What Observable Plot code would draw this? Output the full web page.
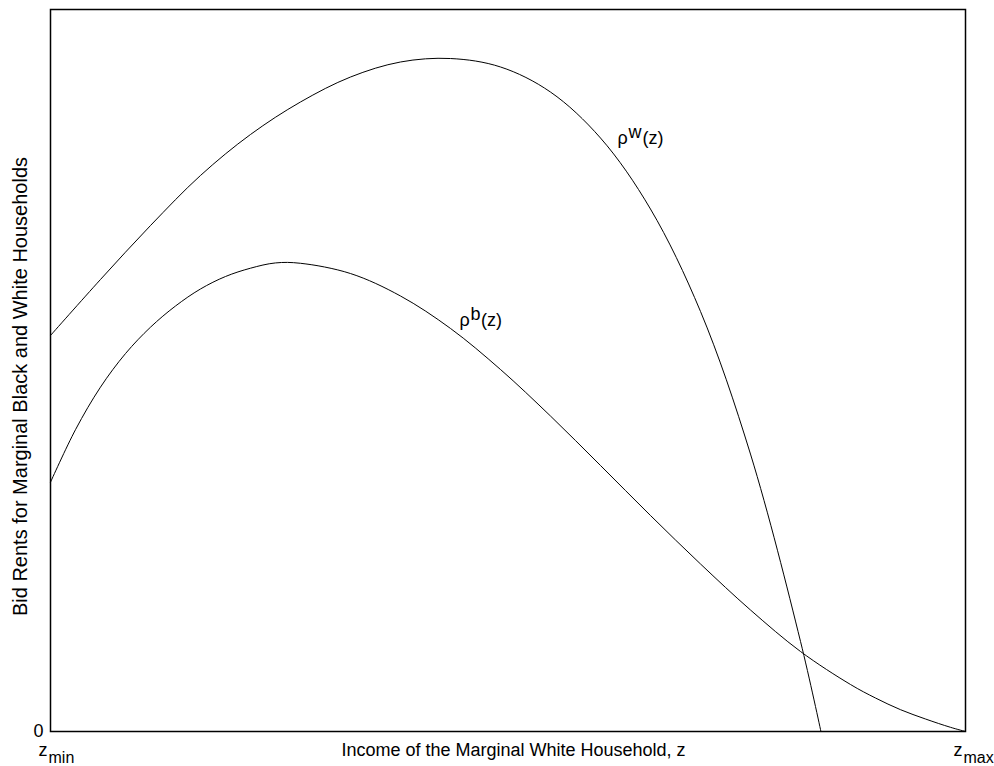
<!DOCTYPE html>
<html>
<head>
<meta charset="utf-8">
<script src="https://cdn.jsdelivr.net/npm/d3@7"></script>
<script src="https://cdn.jsdelivr.net/npm/@observablehq/plot@0.6"></script>
<style>
  html, body { margin: 0; padding: 0; background: #fff; }
  #chart svg { display: block; overflow: visible; }
</style>
</head>
<body>
<div id="chart"></div>
<script>
// Income of the marginal white household (0 = z_min, 100 = z_max)
const zWhite   = [0, 5.46, 10.93, 16.39, 21.86, 27.32, 32.79, 38.25, 43.72, 49.18, 54.64, 60.11, 65.57, 71.04, 76.50, 81.97, 84.2];
const rhoWhite = [54.85, 62.60, 70.08, 77.01, 82.69, 87.19, 90.65, 92.73, 93.21, 92.04, 88.57, 82.20, 72.37, 58.17, 38.43, 12.47, 0];

const zBlack   = [0, 2.73, 5.46, 8.20, 10.93, 13.66, 16.39, 19.13, 21.86, 24.59, 27.32, 32.79, 38.25, 43.72, 49.18, 54.64, 60.11, 65.57, 71.04, 76.50, 81.97, 87.43, 90.16, 92.90, 95.63, 98.36, 100];
const rhoBlack = [34.53, 41.80, 47.69, 52.35, 56.00, 58.93, 61.29, 63.02, 64.17, 64.90, 64.85, 63.43, 60.32, 55.82, 50.14, 43.70, 36.84, 29.92, 23.20, 16.83, 11.08, 6.51, 4.64, 3.02, 1.73, 0.58, 0];

// Tick labels
const xTickValues = [0, 100];
const xTickBase = ["z", "z"];
const xTickSub = ["min", "max"];
const yTickValues = [0];
const yTickLabels = ["0"];

// Curve label anchors (data coords) and superscripts
const curveLabelZ = [61.97, 44.70];
const curveLabelRho = [81.44, 56.23];
const curveLabelSup = ["w", "b"];

const xTitle = "Income of the Marginal White Household, z";
const yTitle = "Bid Rents for Marginal Black and White Households";

const white = zWhite.map((z, i) => ({z, rho: rhoWhite[i]}));
const black = zBlack.map((z, i) => ({z, rho: rhoBlack[i]}));
const xTicks = xTickValues.map((v, i) => ({v, base: xTickBase[i], sub: xTickSub[i]}));
const yTicks = yTickValues.map((v, i) => ({v, label: yTickLabels[i]}));
const labels = curveLabelZ.map((z, i) => ({z, rho: curveLabelRho[i], sup: curveLabelSup[i]}));

const font = "'Liberation Sans', Arial, Helvetica, sans-serif";

const labelMarks = [];
labels.forEach((d) => {
  const tailDx = d.sup === "w" ? 25 : 21.5;
  labelMarks.push(Plot.text([d], {x: "z", y: "rho", text: () => "ρ", textAnchor: "start", lineAnchor: "bottom", fontSize: 18, fill: "black"}));
  labelMarks.push(Plot.text([d], {x: "z", y: "rho", text: "sup", textAnchor: "start", lineAnchor: "bottom", fontSize: 18, dx: 11, dy: -5.5, fill: "black"}));
  labelMarks.push(Plot.text([d], {x: "z", y: "rho", text: () => "(z)", textAnchor: "start", lineAnchor: "bottom", fontSize: 18, dx: tailDx, fill: "black"}));
});

const chart = Plot.plot({
  width: 994,
  height: 766,
  marginLeft: 50,
  marginRight: 29,
  marginTop: 9,
  marginBottom: 35,
  style: {fontFamily: font, fontSize: "18px", background: "white", color: "black"},
  x: {domain: [0, 100], axis: null},
  y: {domain: [0, 100], axis: null},
  marks: [
    Plot.line(white, {x: "z", y: "rho", stroke: "black", strokeWidth: 1, curve: "catmull-rom"}),
    Plot.line(black, {x: "z", y: "rho", stroke: "black", strokeWidth: 1, curve: "catmull-rom"}),
    Plot.frame({stroke: "black", strokeWidth: 1.5}),
    // y tick label "0"
    Plot.text(yTicks, {x: () => 0, y: "v", text: "label", textAnchor: "end", lineAnchor: "middle", dx: -7, fontSize: 18, fill: "black"}),
    // x tick labels z_min, z_max
    Plot.text(xTicks, {x: "v", y: () => 0, text: "base", textAnchor: "start", lineAnchor: "bottom", dx: -12, dy: 24, fontSize: 18, fill: "black"}),
    Plot.text(xTicks, {x: "v", y: () => 0, text: "sub", textAnchor: "start", lineAnchor: "bottom", dx: -2, dy: 31, fontSize: 16, fill: "black"}),
    // axis titles
    Plot.text([xTitle], {frameAnchor: "bottom", textAnchor: "middle", lineAnchor: "bottom", dx: 5.5, dy: 24, fontSize: 18, fill: "black"}),
    Plot.text([yTitle], {frameAnchor: "left", textAnchor: "middle", lineAnchor: "middle", rotate: -90, dx: -30.4, dy: 16, fontSize: 20, fill: "black"}),
    ...labelMarks
  ]
});

document.getElementById("chart").appendChild(chart);
</script>
</body>
</html>
